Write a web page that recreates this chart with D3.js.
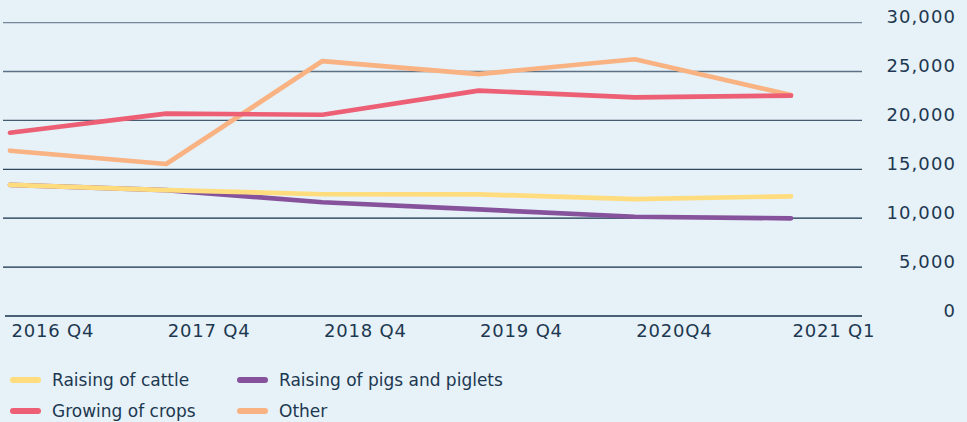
<!DOCTYPE html>
<html>
<head>
<meta charset="utf-8">
<script src="https://cdn.jsdelivr.net/npm/d3@7"></script>
<style>
  html, body { margin: 0; padding: 0; background: #e6f1f8; }
  svg { display: block; }
  text { font-family: "DejaVu Sans", sans-serif; fill: #1d3850; }
</style>
</head>
<body>
<div id="app"></div>
<script>
const quarters = ["2016 Q4", "2017 Q4", "2018 Q4", "2019 Q4", "2020Q4", "2021 Q1"]
const yTicks = [0, 5000, 10000, 15000, 20000, 25000, 30000]

const cattle = [13400, 12880, 12450, 12440, 11960, 12240]
const pigs = [13400, 12880, 11630, 10900, 10150, 9990]
const crops = [18740, 20690, 20580, 23040, 22360, 22530]
const other = [16900, 15540, 26070, 24740, 26250, 22600]

const series = [
  { name: "Raising of cattle", values: cattle, color: "#ffdd7e" },
  { name: "Raising of pigs and piglets", values: pigs, color: "#86529b" },
  { name: "Growing of crops", values: crops, color: "#ec5f74" },
  { name: "Other", values: other, color: "#f9b282" }
]
// pigs under cattle, other under crops at the end
const drawOrder = [1, 0, 3, 2]

const width = 967,
  height = 422

const svg = d3.select("#app")
  .append("svg")
  .attr("width", width)
  .attr("height", height)

const x = d3.scalePoint()
  .domain(quarters)
  .range([10, 791])

const y = d3.scaleLinear()
  .domain([0, 30000])
  .range([316, 22.6])

const gridOpacity = d3.scaleLinear()
  .domain([0, 10000, 30000])
  .range([1, 1, 0.55])

// gridlines
svg.append("g")
  .selectAll("line")
  .data(yTicks)
  .enter()
  .append("line")
  .attr("x1", d => d === 0 ? 5 : 3)
  .attr("x2", 862)
  .attr("y1", d => y(d))
  .attr("y2", d => y(d))
  .attr("stroke", "#15304a")
  .attr("stroke-opacity", d => gridOpacity(d))
  .attr("stroke-width", 1.3)

// y axis labels on the right
const yAxis = d3.axisRight(y)
  .tickValues(yTicks)
  .tickSize(0)
  .tickFormat(d3.format(","))

svg.append("g")
  .attr("transform", "translate(956,0)")
  .call(yAxis)
  .call(g => g.select(".domain").remove())
  .call(g => g.selectAll("text")
    .attr("x", 0)
    .attr("dy", 0)
    .attr("text-anchor", "end")
    .style("font-family", "DejaVu Sans")
    .style("font-size", "18px")
    .style("letter-spacing", "1.1px")
    .attr("fill", "#1d3850"))

// x axis labels, left aligned on the points
const xAxis = d3.axisBottom(x).tickSize(0)

svg.append("g")
  .attr("transform", "translate(0,337)")
  .call(xAxis)
  .call(g => g.select(".domain").remove())
  .call(g => g.selectAll("text")
    .attr("y", 0)
    .attr("dy", 0)
    .attr("x", 1)
    .attr("text-anchor", "start")
    .style("font-family", "DejaVu Sans")
    .style("font-size", "18px")
    .style("letter-spacing", "0.8px")
    .attr("fill", "#1d3850"))

const line = d3.line()
  .x((d, i) => x(quarters[i]))
  .y(d => y(d))

svg.append("g")
  .selectAll("path")
  .data(drawOrder.map(i => series[i]))
  .enter()
  .append("path")
  .attr("d", d => line(d.values))
  .attr("fill", "none")
  .attr("stroke", d => d.color)
  .attr("stroke-width", 4.7)
  .attr("stroke-linecap", "round")
  .attr("stroke-linejoin", "round")

// legend
const legend = svg.append("g")
  .selectAll("g")
  .data(series)
  .enter()
  .append("g")
  .attr("transform", (d, i) => "translate(" + (i % 2 === 0 ? 0 : 227) + "," + (i < 2 ? 380 : 411) + ")")

legend.append("line")
  .attr("x1", 13)
  .attr("x2", 38)
  .attr("y1", 0)
  .attr("y2", 0)
  .attr("stroke", d => d.color)
  .attr("stroke-width", 6)
  .attr("stroke-linecap", "round")

legend.append("text")
  .attr("x", 52)
  .attr("y", 6)
  .style("font-size", "17px")
  .text(d => d.name)
</script>
</body>
</html>
